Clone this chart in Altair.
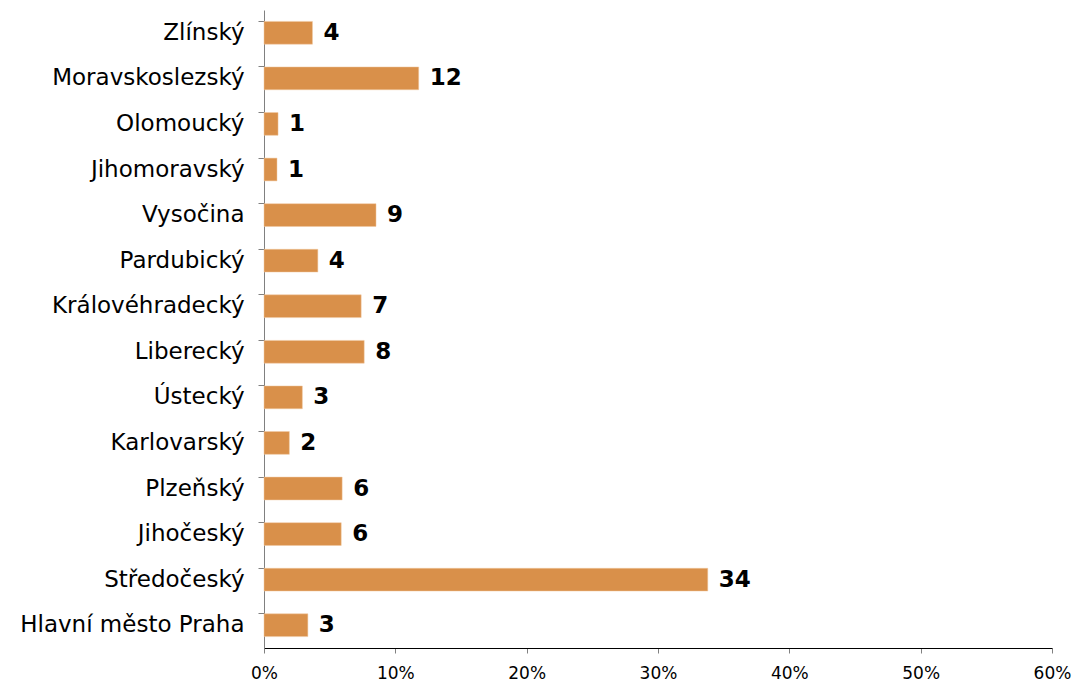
import altair as alt
import pandas as pd

regions = ["Zlínský", "Moravskoslezský", "Olomoucký", "Jihomoravský", "Vysočina",
           "Pardubický", "Královéhradecký", "Liberecký", "Ústecký", "Karlovarský",
           "Plzeňský", "Jihočeský", "Středočeský", "Hlavní město Praha"]
shares = [3.69, 11.78, 1.07, 0.99, 8.53, 4.10, 7.40, 7.63, 2.92, 1.93, 5.95, 5.88, 33.79, 3.34]
labels = ["4", "12", "1", "1", "9", "4", "7", "8", "3", "2", "6", "6", "34", "3"]

df = pd.DataFrame({"region": regions, "share": [s / 100 for s in shares], "label": labels})

FONT = "DejaVu Sans"

y_enc = alt.Y("region:N", sort=regions, title=None,
              scale=alt.Scale(paddingInner=0.5, paddingOuter=0.25),
              axis=alt.Axis(bandPosition=0, tickSize=6, tickColor="#808080",
                            domainColor="#808080", labelPadding=14, labelLimit=400,
                            labelFontSize=23, labelColor="black", labelFont=FONT,
                            grid=False))
x_enc = alt.X("share:Q", title=None,
              scale=alt.Scale(domain=[0, 0.6], nice=False),
              axis=alt.Axis(format=".0%", values=[0, 0.1, 0.2, 0.3, 0.4, 0.5, 0.6],
                            tickSize=5, tickColor="#808080", domainColor="black",
                            labelPadding=12, labelFontSize=17, labelColor="black",
                            labelFont=FONT, grid=False, labelFlush=False))

base = alt.Chart(df)
bars = base.mark_bar(color="#D9904A", stroke="#F0C9A0", strokeWidth=0.5).encode(y=y_enc, x=x_enc)
text = base.mark_text(align="left", baseline="middle", dx=11, fontSize=23,
                      fontWeight="bold", font=FONT, color="black").encode(
    y=alt.Y("region:N", sort=regions), x="share:Q", text="label:N")

chart = (bars + text).properties(
    width=788, height=638,
    autosize=alt.AutoSizeParams(type="none"),
    padding={"left": 264, "top": 10, "right": 20, "bottom": 36},
).configure(background="white").configure_view(stroke=None)

chart.save("out.html", embed_options={"renderer": "svg", "actions": False})
